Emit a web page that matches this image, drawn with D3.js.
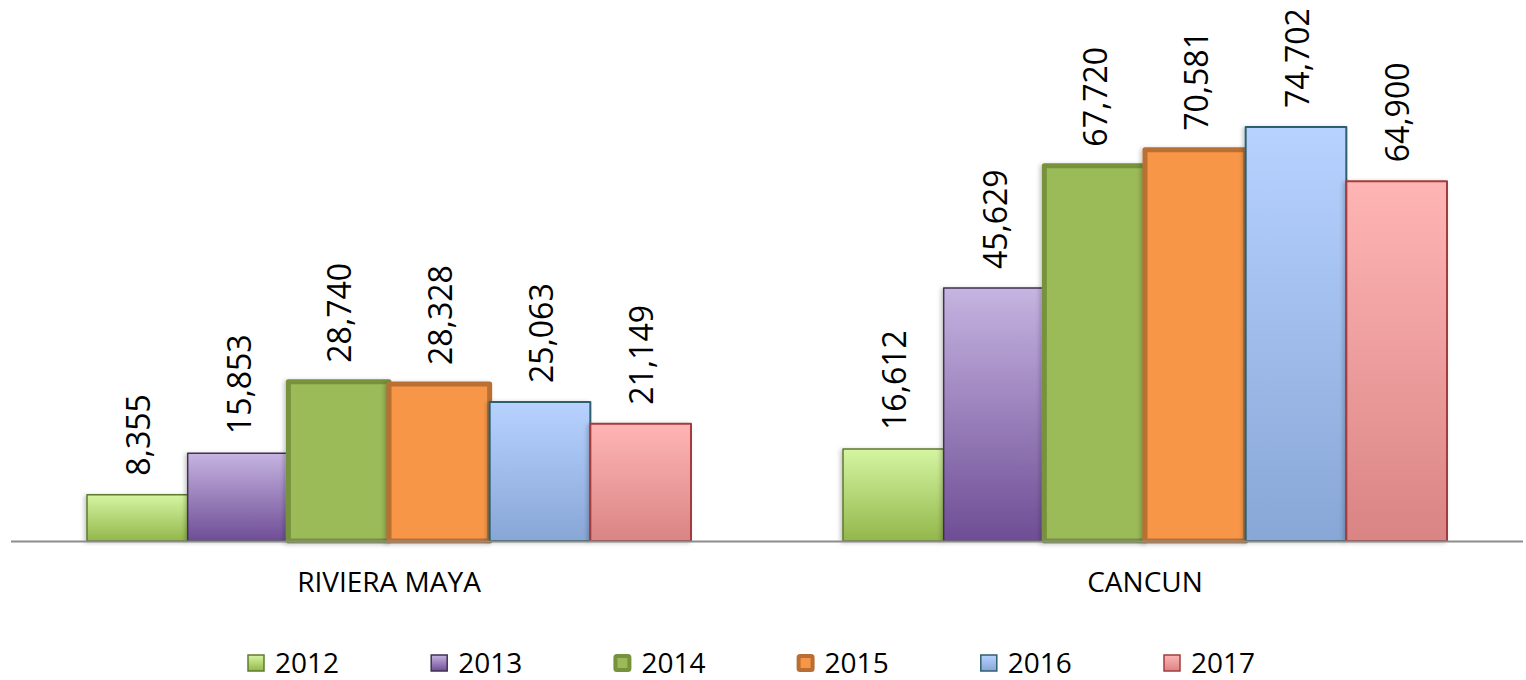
<!DOCTYPE html>
<html>
<head>
<meta charset="utf-8">
<script src="https://cdn.jsdelivr.net/npm/d3@7"></script>
<style>
  body { margin: 0; background: #fff; }
  svg { display: block; }
</style>
</head>
<body>
<script>
// data
const categories = ["RIVIERA MAYA", "CANCUN"];
const years = ["2012", "2013", "2014", "2015", "2016", "2017"];
const rivieraMaya = [8355, 15853, 28740, 28328, 25063, 21149];
const cancun = [16612, 45629, 67720, 70581, 74702, 64900];
const seriesValues = [rivieraMaya, cancun];

// styling per year: gradient top/bottom, stroke, stroke width
const styles = {
  "2012": {top: "#d5f5a2", bottom: "#93b74b", stroke: "#5f7a2e", sw: 1.5},
  "2013": {top: "#c6b4e1", bottom: "#6e4d95", stroke: "#3f3151", sw: 1.5},
  "2014": {top: "#9bbb59", bottom: "#9bbb59", stroke: "#76923c", sw: 5},
  "2015": {top: "#f79646", bottom: "#f79646", stroke: "#b96f33", sw: 5},
  "2016": {top: "#b7d2ff", bottom: "#88a6d6", stroke: "#2e5f6e", sw: 2},
  "2017": {top: "#ffb5b5", bottom: "#da8484", stroke: "#a33c3c", sw: 2}
};

const canvWidth = 1526, canvHeight = 680;
const baseY = 541;

const svg = d3.select("body").append("svg")
    .attr("width", canvWidth)
    .attr("height", canvHeight);

const defs = svg.append("defs");
years.forEach(y => {
  const grad = defs.append("linearGradient")
      .attr("id", "g" + y)
      .attr("x1", 0).attr("y1", 0).attr("x2", 0).attr("y2", 1);
  grad.append("stop").attr("offset", "0%").attr("stop-color", styles[y].top);
  grad.append("stop").attr("offset", "100%").attr("stop-color", styles[y].bottom);
});
const shadow = defs.append("filter").attr("id", "shadow")
    .attr("x", "-10%").attr("y", "-10%").attr("width", "120%").attr("height", "120%");
shadow.append("feDropShadow")
    .attr("dx", -2).attr("dy", 1).attr("stdDeviation", 2)
    .attr("flood-color", "#000").attr("flood-opacity", 0.22);

// scales
const x0 = d3.scaleBand()
    .domain(categories)
    .range([11, 1523]);

const x1 = d3.scaleBand()
    .domain(years)
    .range([0, x0.bandwidth()])
    .paddingInner(0)
    .paddingOuter(0.755);

const yScale = d3.scaleLinear()
    .domain([0, 80000])
    .range([baseY, baseY - 443.4]);

const fmt = d3.format(",");

// bars
const groups = svg.selectAll("g.cat")
    .data(categories)
    .join("g")
    .attr("class", "cat")
    .attr("transform", d => "translate(" + x0(d) + ",0)");

groups.each(function (cat, ci) {
  const g = d3.select(this);
  const rows = years.map((y, i) => ({year: y, value: seriesValues[ci][i]}));

  g.selectAll("rect")
      .data(rows)
      .join("rect")
      .attr("x", d => x1(d.year))
      .attr("y", d => yScale(d.value))
      .attr("width", x1.bandwidth())
      .attr("height", d => baseY - yScale(d.value))
      .attr("fill", d => "url(#g" + d.year + ")")
      .attr("stroke", d => styles[d.year].stroke)
      .attr("stroke-width", d => styles[d.year].sw)
      .attr("stroke-linejoin", "round")
      .attr("filter", "url(#shadow)");

  // value labels, rotated
  g.selectAll("text.val")
      .data(rows)
      .join("text")
      .attr("class", "val")
      .attr("transform", d => "translate(" + (x1(d.year) + x1.bandwidth() / 2 + 1) + "," + (yScale(d.value) - 19) + ") rotate(-90)")
      .attr("dy", "0.36em")
      .attr("font-family", "'Open Sans', sans-serif")
      .attr("font-size", "32px")
      .attr("fill", "#000")
      .style("text-anchor", "start")
      .text(d => fmt(d.value));
});

// category axis
svg.append("line")
    .attr("x1", x0.range()[0]).attr("x2", x0.range()[1])
    .attr("y1", baseY + 0.5).attr("y2", baseY + 0.5)
    .attr("stroke", "#8c8c8c")
    .attr("stroke-width", 2);

svg.selectAll("text.cat")
    .data(categories)
    .join("text")
    .attr("class", "cat")
    .attr("x", d => x0(d) + x0.bandwidth() / 2)
    .attr("y", 592)
    .attr("font-family", "'Open Sans', sans-serif")
    .attr("font-size", "28px")
    .style("text-anchor", "middle")
    .text(d => d);

// legend
const legend = svg.append("g").attr("id", "legend");
const legendItem = legend.selectAll("g")
    .data(years)
    .join("g")
    .attr("transform", (d, i) => "translate(" + (247 + i * 183.2) + ",0)");

legendItem.append("rect")
    .attr("x", d => styles[d].sw > 3 ? 2 : 1)
    .attr("y", d => styles[d].sw > 3 ? 656 : 655)
    .attr("width", d => styles[d].sw > 3 ? 14 : 16)
    .attr("height", d => styles[d].sw > 3 ? 14 : 16)
    .attr("rx", d => styles[d].sw > 3 ? 1.5 : 0)
    .attr("fill", d => "url(#g" + d + ")")
    .attr("stroke", d => styles[d].stroke)
    .attr("stroke-width", d => styles[d].sw > 3 ? 4 : 1.5);

legendItem.append("text")
    .attr("x", 28)
    .attr("y", 673)
    .attr("font-family", "'Open Sans', sans-serif")
    .attr("font-size", "28px")
    .text(d => d);
</script>
</body>
</html>
